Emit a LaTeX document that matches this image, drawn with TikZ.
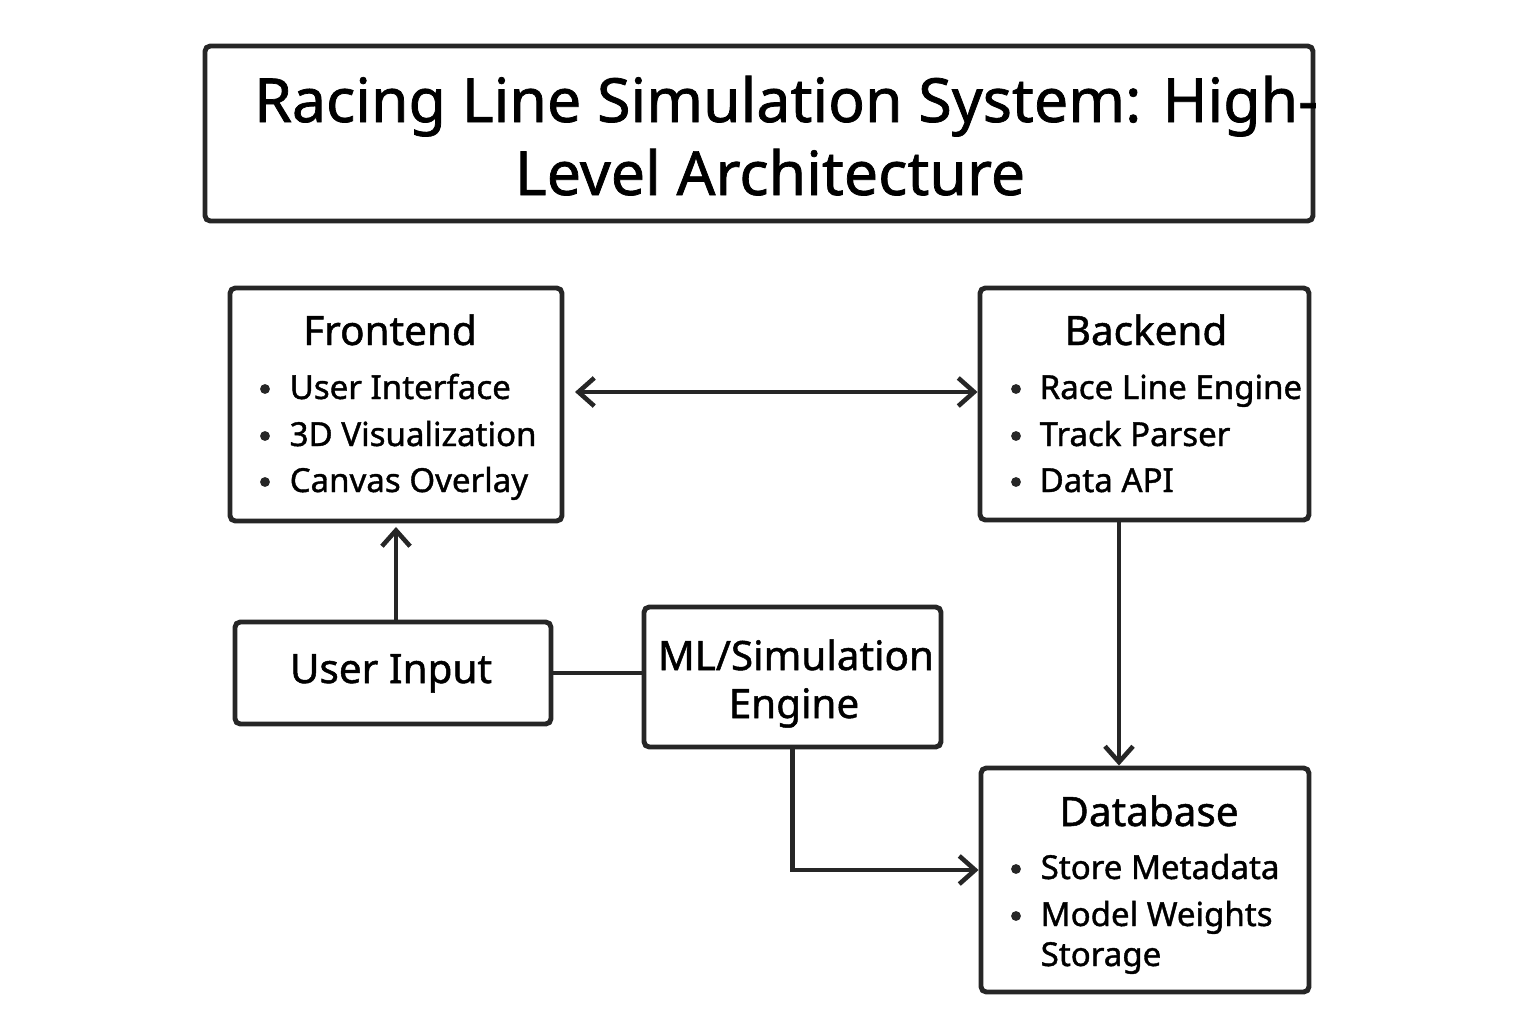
\documentclass[tikz,border=0pt]{standalone}
\usepackage{fontspec}
\setmainfont{Noto Sans}[FakeBold=1.2]
\usetikzlibrary{arrows.meta,fit}

\tikzset{
  box/.style={draw=black!85, line width=1.4pt, rounded corners=1.5pt, inner sep=0pt},
  conn/.style={draw=black!85, line width=1.2pt},
  tip/.style={-{Straight Barb[length=4.5pt,width=8pt,line width=1.3pt]}},
  tips/.style={{Straight Barb[length=4.5pt,width=8pt,line width=1.3pt]}-{Straight Barb[length=4.5pt,width=8pt,line width=1.3pt]}},
  ttl/.style={font=\fontsize{17.3}{20}\selectfont, anchor=base, inner sep=0pt},
  head/.style={font=\fontsize{11.5}{14}\selectfont, anchor=base, inner sep=0pt},
  item/.style={font=\fontsize{9.4}{11}\selectfont, anchor=base west, inner sep=0pt},
  bul/.style={circle, fill=black!85, minimum size=2.8pt, inner sep=0pt},
}

\begin{document}
\begin{tikzpicture}[x=0.01cm, y=-0.01cm]
  \useasboundingbox (0,0) rectangle (1536,1024);

  % Title
  \node[box, fit={(205,46) (1313,221)}] (title) {};
  \node[ttl] (title1) at (786,122) {Racing Line Simulation System: High-};
  \node[ttl] (title2) at (770,195) {Level Architecture};

  % Frontend
  \node[box, fit={(230,288) (562,521)}] (frontend) {};
  \node[head] (fehead) at (390,345) {Frontend};
  \node[bul] (feb1) at (265,389) {};
  \node[item] (fe1) at (289,399) {User Interface};
  \node[bul] (feb2) at (265,436) {};
  \node[item] (fe2) at (289,446) {3D Visualization};
  \node[bul] (feb3) at (265,482) {};
  \node[item] (fe3) at (289,492) {Canvas Overlay};

  % Backend
  \node[box, fit={(980,288) (1309,520)}] (backend) {};
  \node[head] (behead) at (1146,345) {Backend};
  \node[bul] (beb1) at (1016,389) {};
  \node[item] (be1) at (1039,399) {Race Line Engine};
  \node[bul] (beb2) at (1016,436) {};
  \node[item] (be2) at (1039,446) {Track Parser};
  \node[bul] (beb3) at (1016,482) {};
  \node[item] (be3) at (1039,492) {Data API};

  % User input
  \node[box, fit={(235,622) (551,724)}] (input) {};
  \node[head] (inlabel) at (391,683) {User Input};

  % ML engine
  \node[box, fit={(644,607) (941,747)}] (ml) {};
  \node[head] (ml1) at (796,670) {ML/Simulation};
  \node[head] (ml2) at (794,718) {Engine};

  % Database
  \node[box, fit={(981,768) (1309,992)}] (database) {};
  \node[head] (dbhead) at (1149,826) {Database};
  \node[bul] (dbb1) at (1016,869) {};
  \node[item] (db1) at (1040,879) {Store Metadata};
  \node[bul] (dbb2) at (1016,916) {};
  \node[item] (db2) at (1040,926) {Model Weights};
  \node[item] (db3) at (1040,966) {Storage};

  % Connectors
  \coordinate (linky) at (0,392);
  \coordinate (downx) at (1119,0);
  \draw[conn, tips, shorten <=3pt] (frontend.east |- linky) -- (backend.west |- linky);
  \draw[conn, tip] (input.north -| frontend.south) -- ([yshift=-1pt]frontend.south);
  \draw[conn] (input.east) -- (input.east -| ml.west);
  \draw[conn, tip] (downx |- backend.south) -- (downx |- database.north);
  \draw[conn, tip] (ml.south) |- ([yshift=1mm]database.west);
\end{tikzpicture}
\end{document}
